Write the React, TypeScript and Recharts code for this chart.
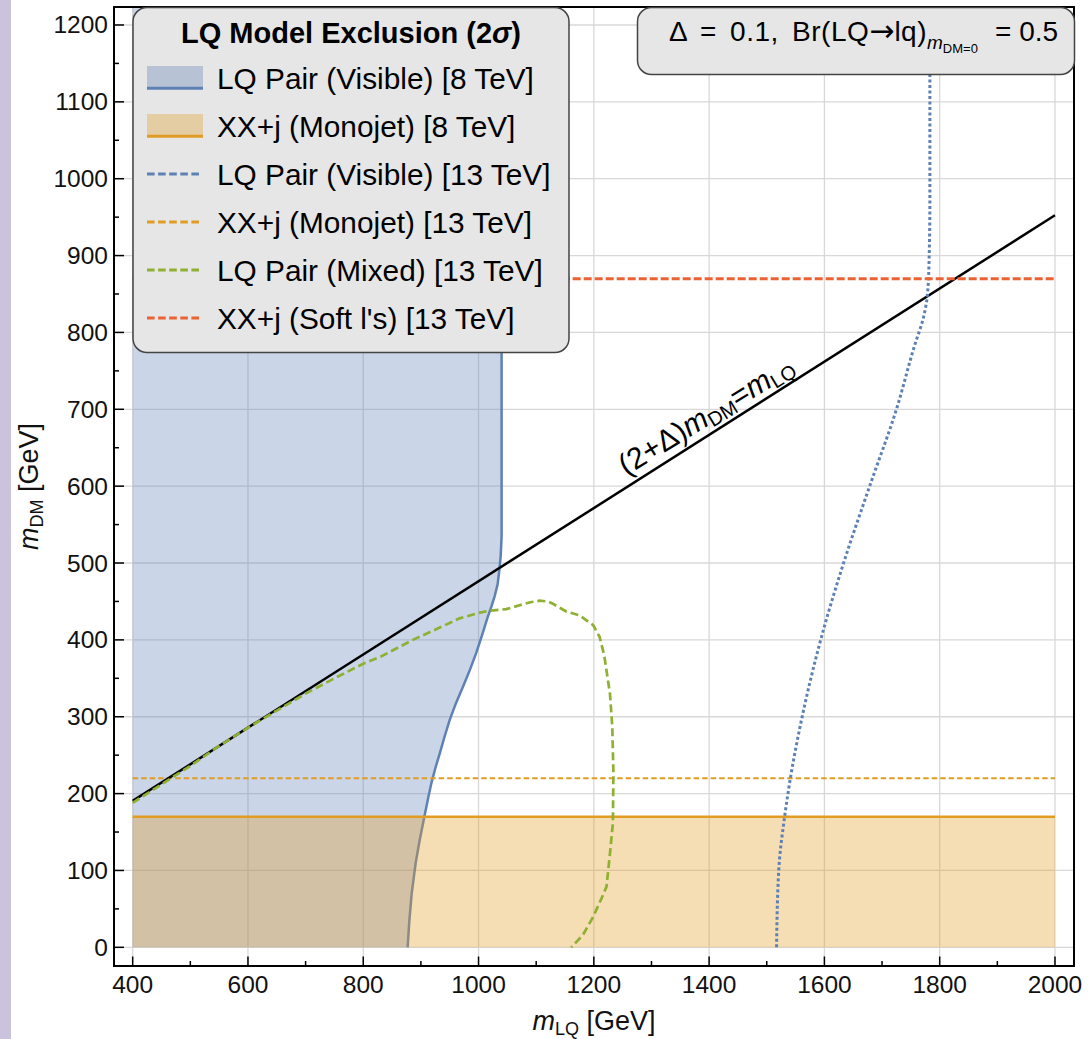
import { ComposedChart, Area, Line, XAxis, YAxis, CartesianGrid, ReferenceDot } from "recharts";

const FONT = '"Liberation Sans", Arial, Helvetica, sans-serif';

const BLUE = "#5e81b5";
const ORANGE = "#e19c24";
const GREEN = "#8fb032";
const RED = "#eb6235";

// axis ranges (GeV)
const X_DOMAIN = [367.6, 2033];
const Y_DOMAIN = [-24.3, 1223.4];
const Y_TOP = 1223.4;

const xMajorTicks = [400, 600, 800, 1000, 1200, 1400, 1600, 1800, 2000];
const xMinorTicks = [500, 700, 900, 1100, 1300, 1500, 1700, 1900];
const yMajorTicks = [0, 100, 200, 300, 400, 500, 600, 700, 800, 900, 1000, 1100, 1200];
const yMinorTicks = [50, 150, 250, 350, 450, 550, 650, 750, 850, 950, 1050, 1150];

// LQ pair (visible) 8 TeV exclusion boundary, m_LQ vs m_DM
const pairVisible8 = [
  { x: 877, y: 0 },
  { x: 880, y: 35 },
  { x: 884, y: 70 },
  { x: 891, y: 110 },
  { x: 898, y: 140 },
  { x: 906, y: 170 },
  { x: 912, y: 192 },
  { x: 918, y: 213 },
  { x: 925, y: 233 },
  { x: 933, y: 253 },
  { x: 941, y: 274 },
  { x: 950, y: 296 },
  { x: 961, y: 318 },
  { x: 973, y: 339 },
  { x: 985, y: 361 },
  { x: 996, y: 383 },
  { x: 1006, y: 406 },
  { x: 1016, y: 430 },
  { x: 1023, y: 445 },
  { x: 1028, y: 457 },
  { x: 1033, y: 472 },
  { x: 1036, y: 490 },
  { x: 1038.5, y: 510 },
  { x: 1040, y: 535 },
  { x: 1040, y: Y_TOP },
];

// monojet 8 TeV excluded below this m_DM
const monojet8 = [
  { x: 400, y: 170 },
  { x: 2000, y: 170 },
];

const monojet13 = [
  { x: 400, y: 220 },
  { x: 2000, y: 220 },
];

const softLeptons13 = [
  { x: 400, y: 870 },
  { x: 2000, y: 870 },
];

const pairVisible13 = [
  { x: 1517, y: 0 },
  { x: 1521, y: 103 },
  { x: 1531, y: 170 },
  { x: 1541, y: 220 },
  { x: 1560, y: 295 },
  { x: 1595, y: 404 },
  { x: 1632, y: 497 },
  { x: 1679, y: 601 },
  { x: 1725, y: 700 },
  { x: 1756, y: 782 },
  { x: 1772, y: 820 },
  { x: 1779, y: 851 },
  { x: 1782, y: 907 },
  { x: 1783, y: 972 },
  { x: 1783, y: Y_TOP },
];

const pairMixed13 = [
  { x: 400, y: 188 },
  { x: 450, y: 212 },
  { x: 500, y: 236 },
  { x: 550, y: 262 },
  { x: 603, y: 287 },
  { x: 650, y: 308 },
  { x: 700, y: 330 },
  { x: 750, y: 350 },
  { x: 800, y: 369 },
  { x: 830, y: 378 },
  { x: 863, y: 391 },
  { x: 886, y: 400 },
  { x: 930, y: 415 },
  { x: 967, y: 428 },
  { x: 1000, y: 435 },
  { x: 1019, y: 438 },
  { x: 1048, y: 440 },
  { x: 1071, y: 445 },
  { x: 1090, y: 449 },
  { x: 1106, y: 451 },
  { x: 1120, y: 450 },
  { x: 1129, y: 447 },
  { x: 1152, y: 437 },
  { x: 1175, y: 432 },
  { x: 1199, y: 419 },
  { x: 1210, y: 404 },
  { x: 1218, y: 380 },
  { x: 1222, y: 360 },
  { x: 1228, y: 330 },
  { x: 1232, y: 287 },
  { x: 1234, y: 226 },
  { x: 1233, y: 161 },
  { x: 1228, y: 122 },
  { x: 1222, y: 79 },
  { x: 1216, y: 68 },
  { x: 1199, y: 40 },
  { x: 1181, y: 16 },
  { x: 1161, y: 0 },
];

// (2+Δ) m_DM = m_LQ
const kinematicLine = [
  { x: 400, y: 190.5 },
  { x: 2000, y: 952.4 },
];

const pairVisible8Fill = [
  { x: 400, range: [0, Y_TOP] },
  ...pairVisible8.map((p) => ({ x: p.x, range: [p.y, Y_TOP] })),
];

const legendRows = [
  { label: "LQ Pair (Visible) [8 TeV]", color: BLUE, filled: true },
  { label: "XX+j (Monojet) [8 TeV]", color: ORANGE, filled: true },
  { label: "LQ Pair (Visible) [13 TeV]", color: BLUE, filled: false },
  { label: "XX+j (Monojet) [13 TeV]", color: ORANGE, filled: false },
  { label: "LQ Pair (Mixed) [13 TeV]", color: GREEN, filled: false },
  { label: "XX+j (Soft l's) [13 TeV]", color: RED, filled: false },
];

const XTick = (props: any) => {
  const { x, y, payload } = props;
  const major = xMajorTicks.includes(payload.value);
  return (
    <g>
      <line x1={x} x2={x} y1={y} y2={y - (major ? 9.5 : 5)} stroke="#000" strokeWidth={1.5} />
      {major && (
        <text x={x} y={y + 27} textAnchor="middle" fontSize={24.5} fontFamily={FONT} fill="#111">
          {payload.value}
        </text>
      )}
    </g>
  );
};

const YTick = (props: any) => {
  const { x, y, payload } = props;
  const major = yMajorTicks.includes(payload.value);
  return (
    <g>
      <line x1={x} x2={x + (major ? 10 : 5)} y1={y} y2={y} stroke="#000" strokeWidth={1.5} />
      {major && (
        <text x={x - 6} y={y + 8.5} textAnchor="end" fontSize={24.5} fontFamily={FONT} fill="#111">
          {payload.value}
        </text>
      )}
    </g>
  );
};

const XTitle = (props: any) => {
  const vb = props.viewBox;
  return (
    <text
      x={vb.x + vb.width / 2}
      y={vb.y + 64}
      textAnchor="middle"
      fontSize={27}
      fontFamily={FONT}
      fill="#111"
      style={{ whiteSpace: "pre" }}
    >
      <tspan fontStyle="italic">m</tspan>
      <tspan fontSize={18} dy={5}>LQ</tspan>
      <tspan dy={-5}>{" [GeV]"}</tspan>
    </text>
  );
};

const YTitle = (props: any) => {
  const vb = props.viewBox;
  const cx = vb.x + 38;
  const cy = vb.y + vb.height / 2;
  return (
    <text
      x={cx}
      y={cy}
      transform={`rotate(-90 ${cx} ${cy})`}
      textAnchor="middle"
      fontSize={27}
      fontFamily={FONT}
      fill="#111"
      style={{ whiteSpace: "pre" }}
    >
      <tspan fontStyle="italic">m</tspan>
      <tspan fontSize={18} dy={5}>DM</tspan>
      <tspan dy={-5}>{" [GeV]"}</tspan>
    </text>
  );
};

const LineLabel = (props: any) => {
  const { cx, cy } = props;
  return (
    <text
      x={cx}
      y={cy}
      transform={`rotate(-31.5 ${cx} ${cy})`}
      textAnchor="middle"
      fontSize={30}
      fontFamily={FONT}
      fill="#000"
    >
      <tspan>(2+Δ)</tspan>
      <tspan fontStyle="italic">m</tspan>
      <tspan fontSize={20} dy={4}>DM</tspan>
      <tspan dy={-4}>=</tspan>
      <tspan fontStyle="italic">m</tspan>
      <tspan fontSize={20} dy={4}>LQ</tspan>
    </text>
  );
};

function Overlay() {
  return (
    <svg
      width={1089}
      height={1039}
      style={{ position: "absolute", left: 0, top: 0, pointerEvents: "none" }}
    >
      <rect x={0} y={0} width={11} height={1039} fill="#cbc3de" />
      <rect x={114} y={7} width={960} height={959} fill="none" stroke="#000" strokeWidth={2} />

      {/* legend */}
      <rect x={133} y={7.5} width={436} height={345} rx={14} fill="#e6e6e6" stroke="#444" strokeWidth={1.5} />
      <text x={351} y={43.3} textAnchor="middle" fontSize={29} fontWeight="bold" fontFamily={FONT} fill="#000">
        LQ Model Exclusion (2<tspan fontStyle="italic">σ</tspan>)
      </text>
      {legendRows.map((r, i) => {
        const c = 78 + i * 48;
        return (
          <g key={r.label}>
            {r.filled ? (
              <g>
                <rect x={147} y={c - 12} width={56} height={22} fill={r.color} fillOpacity={0.34} />
                <line x1={147} x2={203} y1={c + 10.3} y2={c + 10.3} stroke={r.color} strokeWidth={3} />
              </g>
            ) : (
              <line x1={147} x2={199} y1={c} y2={c} stroke={r.color} strokeWidth={3} strokeDasharray="7.6 3.5" />
            )}
            <text x={217} y={c + 10.5} fontSize={29.8} fontFamily={FONT} fill="#000">
              {r.label}
            </text>
          </g>
        );
      })}

      {/* parameter box */}
      <rect x={637.5} y={7.5} width={437} height={67} rx={14} fill="#e6e6e6" stroke="#444" strokeWidth={1.5} />
      <text x={669} y={41} fontSize={28} fontFamily={FONT} fill="#000" style={{ whiteSpace: "pre" }}>
        <tspan style={{ wordSpacing: 5, letterSpacing: 0.5 }}>{"Δ = 0.1, Br(LQ"}</tspan>
        <tspan fontFamily='"DejaVu Sans", sans-serif' fontSize={30}>→</tspan>
        <tspan style={{ letterSpacing: 0.5 }}>{"lq)"}</tspan>
        <tspan fontSize={19} fontStyle="italic" dy={8}>m</tspan>
        <tspan fontSize={13} dy={4}>DM=0</tspan>
        <tspan x={995} dy={-12}>{"= 0.5"}</tspan>
      </text>
    </svg>
  );
}

export default function App() {
  return (
    <div style={{ position: "absolute", left: 0, top: 0, width: 1089, height: 1039, background: "#fff" }}>
      <ComposedChart width={1089} height={1039} margin={{ top: 7, right: 15, left: 0, bottom: 0 }}>
        <CartesianGrid
          stroke="#d8d8d8"
          strokeWidth={1.3}
          horizontalValues={yMajorTicks}
          verticalValues={xMajorTicks}
        />
        <XAxis
          dataKey="x"
          type="number"
          domain={X_DOMAIN}
          allowDataOverflow
          ticks={[...xMajorTicks, ...xMinorTicks].sort((a, b) => a - b)}
          interval={0}
          tickSize={0}
          tickMargin={0}
          tick={<XTick />}
          axisLine={false}
          height={73}
          label={{ content: <XTitle /> }}
        />
        <YAxis
          type="number"
          domain={Y_DOMAIN}
          allowDataOverflow
          ticks={[...yMajorTicks, ...yMinorTicks].sort((a, b) => a - b)}
          interval={0}
          tickSize={0}
          tickMargin={0}
          tick={<YTick />}
          axisLine={false}
          width={114}
          label={{ content: <YTitle /> }}
        />
        <Area
          data={pairVisible8Fill}
          dataKey="range"
          type="linear"
          fill={BLUE}
          fillOpacity={0.33}
          stroke="none"
          isAnimationActive={false}
        />
        {/* boundary drawn as an unfilled area so the monojet fill sits above it */}
        <Area
          data={pairVisible8}
          dataKey="y"
          type="linear"
          fill="none"
          stroke={BLUE}
          strokeWidth={2.5}
          isAnimationActive={false}
        />
        <Area
          data={monojet8}
          dataKey="y"
          type="linear"
          baseValue={0}
          fill={ORANGE}
          fillOpacity={0.34}
          stroke={ORANGE}
          strokeWidth={2.5}
          isAnimationActive={false}
        />
        <Line data={monojet13} dataKey="y" type="linear" stroke={ORANGE} strokeWidth={2.2} strokeDasharray="5.5 3" dot={false} isAnimationActive={false} />
        <Line data={kinematicLine} dataKey="y" type="linear" stroke="#000" strokeWidth={2.5} dot={false} isAnimationActive={false} />
        <Line data={pairMixed13} dataKey="y" type="linear" stroke={GREEN} strokeWidth={2.7} strokeDasharray="8 4" dot={false} isAnimationActive={false} />
        <Line data={pairVisible13} dataKey="y" type="monotoneY" stroke={BLUE} strokeWidth={3} strokeDasharray="3 2.5" dot={false} isAnimationActive={false} />
        <Line data={softLeptons13} dataKey="y" type="linear" stroke={RED} strokeWidth={3} strokeDasharray="8 3" dot={false} isAnimationActive={false} />
        <ReferenceDot x={1404} y={681} r={0} shape={<LineLabel />} />
      </ComposedChart>
      <Overlay />
    </div>
  );
}
